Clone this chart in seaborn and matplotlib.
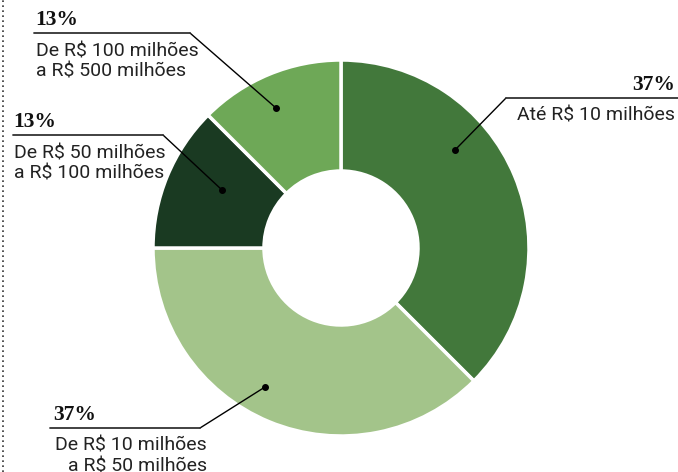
import matplotlib.pyplot as plt
import seaborn as sns

faixas = ["Até R$ 10 milhões", "De R$ 10 milhões\na R$ 50 milhões",
          "De R$ 50 milhões\na R$ 100 milhões", "De R$ 100 milhões\na R$ 500 milhões"]
shares = [37.5, 37.5, 12.5, 12.5]
pct_labels = ["37%", "37%", "13%", "13%"]
colors = ["#42783b", "#a3c48a", "#1a3a22", "#6ea857"]

sns.set_theme(style="white")
plt.rcParams['font.family'] = ['Roboto', 'DejaVu Sans']

W, H = 678, 472
fig = plt.figure(figsize=(W / 100, H / 100), dpi=100)
ax = fig.add_axes([0, 0, 1, 1])

cx, cy = 341, H - 248
ax.pie(shares, colors=sns.color_palette(colors), startangle=90, counterclock=False,
       center=(cx, cy), radius=188, frame=True,
       wedgeprops=dict(width=111, edgecolor='white', linewidth=2.5))
ax.set_xlim(0, W)
ax.set_ylim(0, H)
ax.set_aspect('equal')
ax.axis('off')

# left dotted rule
ax.plot([3, 3], [0, H], ls=(0, (1, 2)), color='#333333', lw=1.2)


def callout(i, dot, elbow, x0, x1, pct_x, pct_ha, txt_x, txt_ha):
    y = lambda v: H - v
    ax.plot([dot[0], elbow[0]], [y(dot[1]), y(elbow[1])], color='black', lw=1)
    ax.plot([x0, x1], [y(elbow[1]), y(elbow[1])], color='#333333', lw=1.3)
    ax.plot(dot[0], y(dot[1]), 'o', color='black', ms=4)
    ax.text(pct_x, y(elbow[1] - 3), pct_labels[i], ha=pct_ha, va='bottom',
            family='Liberation Serif', weight='bold', fontsize=15.5, color='#111111')
    ax.text(txt_x, y(elbow[1] + 9), faixas[i], ha=txt_ha, va='top', fontsize=14,
            color='#222222', linespacing=1.2, multialignment=txt_ha)


callout(0, (455, 150), (506, 98), 506, 678, 675, 'right', 675, 'right')
callout(1, (265, 387), (200, 428), 50, 200, 53, 'left', 207, 'right')
callout(2, (222, 190), (163, 135), 13, 163, 13, 'left', 14, 'left')
callout(3, (276, 108), (190, 33), 34, 190, 35, 'left', 36, 'left')

fig.savefig("out.png", dpi=100)
